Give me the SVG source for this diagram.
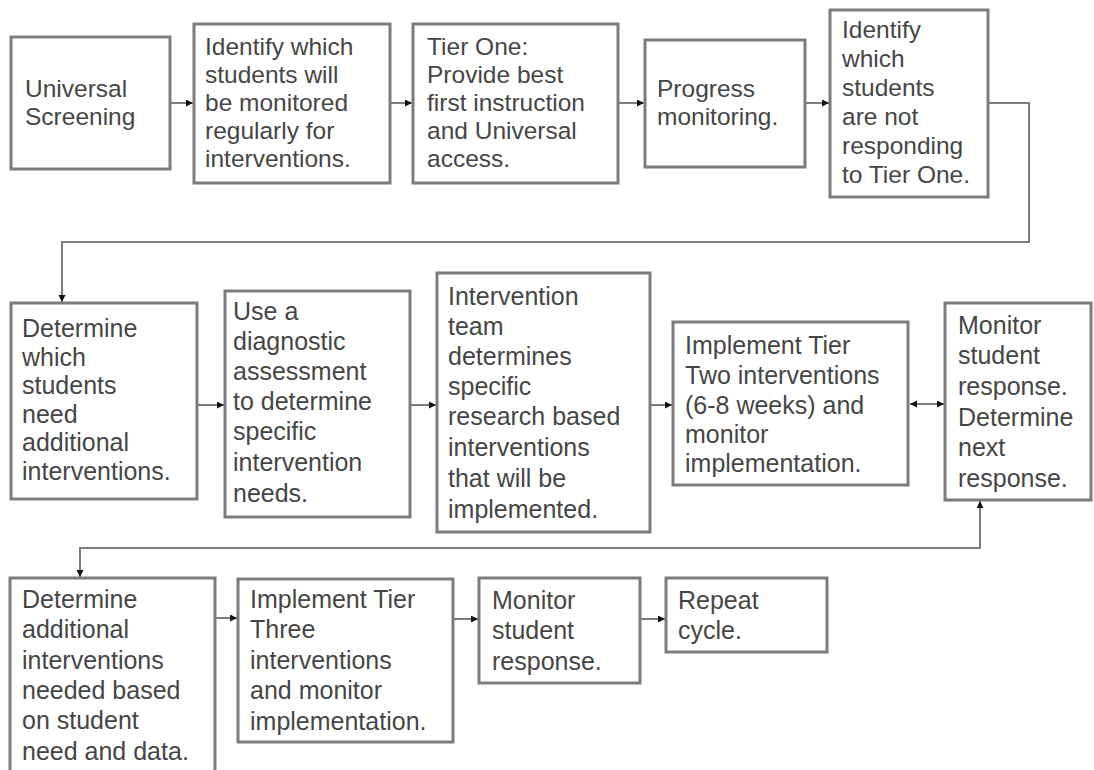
<svg xmlns="http://www.w3.org/2000/svg" width="1094" height="770" viewBox="0 0 1094 770">
<style>
.box{fill:#ffffff;stroke:#7c7c7c;stroke-width:3}
.t{font-family:"Liberation Sans",Arial,sans-serif;font-size:25px;fill:#464646}
.t1{font-size:24.5px}
.c{fill:none;stroke:#7c7c7c;stroke-width:2}
</style>
<defs>
<marker id="ah" markerUnits="userSpaceOnUse" markerWidth="9" markerHeight="9" refX="7" refY="3.5" orient="auto-start-reverse">
<path d="M0,0 L7,3.5 L0,7 z" fill="#111"/>
</marker>
</defs>
<rect width="1094" height="770" fill="#ffffff"/>
<g id="connectors">
<path class="c" d="M170,103 H193" marker-end="url(#ah)"/>
<path class="c" d="M390,103 H412" marker-end="url(#ah)"/>
<path class="c" d="M618,103 H644" marker-end="url(#ah)"/>
<path class="c" d="M805,103 H829" marker-end="url(#ah)"/>
<path class="c" d="M988,103 H1029 V242 H62 V302" marker-end="url(#ah)"/>
<path class="c" d="M197,405 H224" marker-end="url(#ah)"/>
<path class="c" d="M410,405 H436" marker-end="url(#ah)"/>
<path class="c" d="M650,405 H672" marker-end="url(#ah)"/>
<path class="c" d="M910,404 H944" marker-start="url(#ah)" marker-end="url(#ah)"/>
<path class="c" d="M980,501 V548 H80 V577" marker-start="url(#ah)" marker-end="url(#ah)"/>
<path class="c" d="M215,618 H237" marker-end="url(#ah)"/>
<path class="c" d="M453,619 H478" marker-end="url(#ah)"/>
<path class="c" d="M640,619 H665" marker-end="url(#ah)"/>
</g>
<g id="n1"><rect class="box" x="11" y="37" width="159" height="132"/>
<text class="t t1" x="25"><tspan x="25" y="97">Universal</tspan><tspan x="25" y="125">Screening</tspan></text></g>
<g id="n2"><rect class="box" x="194" y="24" width="196" height="159"/>
<text class="t t1"><tspan x="205" y="55">Identify which</tspan><tspan x="205" y="83">students will</tspan><tspan x="205" y="111">be monitored</tspan><tspan x="205" y="139">regularly for</tspan><tspan x="205" y="167">interventions.</tspan></text></g>
<g id="n3"><rect class="box" x="413" y="24" width="205" height="159"/>
<text class="t t1"><tspan x="427" y="55">Tier One:</tspan><tspan x="427" y="83">Provide best</tspan><tspan x="427" y="111">first instruction</tspan><tspan x="427" y="139">and Universal</tspan><tspan x="427" y="167">access.</tspan></text></g>
<g id="n4"><rect class="box" x="645" y="40" width="160" height="127"/>
<text class="t t1"><tspan x="657" y="97">Progress</tspan><tspan x="657" y="125">monitoring.</tspan></text></g>
<g id="n5"><rect class="box" x="830" y="10" width="158" height="187"/>
<text class="t t1"><tspan x="842" y="38">Identify</tspan><tspan x="842" y="67">which</tspan><tspan x="842" y="96">students</tspan><tspan x="842" y="125">are not</tspan><tspan x="842" y="154">responding</tspan><tspan x="842" y="183">to Tier One.</tspan></text></g>
<g id="n6"><rect class="box" x="11" y="303" width="186" height="196"/>
<text class="t"><tspan x="22" y="337">Determine</tspan><tspan x="22" y="366">which</tspan><tspan x="22" y="394">students</tspan><tspan x="22" y="423">need</tspan><tspan x="22" y="451">additional</tspan><tspan x="22" y="480">interventions.</tspan></text></g>
<g id="n7"><rect class="box" x="225" y="291" width="185" height="226"/>
<text class="t"><tspan x="233" y="320">Use a</tspan><tspan x="233" y="350">diagnostic</tspan><tspan x="233" y="380">assessment</tspan><tspan x="233" y="410">to determine</tspan><tspan x="233" y="440">specific</tspan><tspan x="233" y="471">intervention</tspan><tspan x="233" y="502">needs.</tspan></text></g>
<g id="n8"><rect class="box" x="437" y="273" width="213" height="259"/>
<text class="t"><tspan x="448" y="305">Intervention</tspan><tspan x="448" y="335">team</tspan><tspan x="448" y="365">determines</tspan><tspan x="448" y="395">specific</tspan><tspan x="448" y="425">research based</tspan><tspan x="448" y="456">interventions</tspan><tspan x="448" y="487">that will be</tspan><tspan x="448" y="518">implemented.</tspan></text></g>
<g id="n9"><rect class="box" x="673" y="322" width="235" height="163"/>
<text class="t"><tspan x="685" y="354">Implement Tier</tspan><tspan x="685" y="384">Two interventions</tspan><tspan x="685" y="414">(6-8 weeks) and</tspan><tspan x="685" y="443">monitor</tspan><tspan x="685" y="472">implementation.</tspan></text></g>
<g id="n10"><rect class="box" x="945" y="303" width="146" height="197"/>
<text class="t"><tspan x="958" y="334">Monitor</tspan><tspan x="958" y="364">student</tspan><tspan x="958" y="395">response.</tspan><tspan x="958" y="426">Determine</tspan><tspan x="958" y="456">next</tspan><tspan x="958" y="487">response.</tspan></text></g>
<g id="n11"><rect class="box" x="10" y="578" width="205" height="200"/>
<text class="t"><tspan x="22" y="608">Determine</tspan><tspan x="22" y="638">additional</tspan><tspan x="22" y="669">interventions</tspan><tspan x="22" y="699">needed based</tspan><tspan x="22" y="729">on student</tspan><tspan x="22" y="760">need and data.</tspan></text></g>
<g id="n12"><rect class="box" x="238" y="579" width="215" height="163"/>
<text class="t"><tspan x="250" y="608">Implement Tier</tspan><tspan x="250" y="638">Three</tspan><tspan x="250" y="669">interventions</tspan><tspan x="250" y="699">and monitor</tspan><tspan x="250" y="730">implementation.</tspan></text></g>
<g id="n13"><rect class="box" x="479" y="578" width="161" height="105"/>
<text class="t"><tspan x="492" y="609">Monitor</tspan><tspan x="492" y="639">student</tspan><tspan x="492" y="670">response.</tspan></text></g>
<g id="n14"><rect class="box" x="666" y="578" width="161" height="74"/>
<text class="t"><tspan x="678" y="609">Repeat</tspan><tspan x="678" y="639">cycle.</tspan></text></g>
</svg>
